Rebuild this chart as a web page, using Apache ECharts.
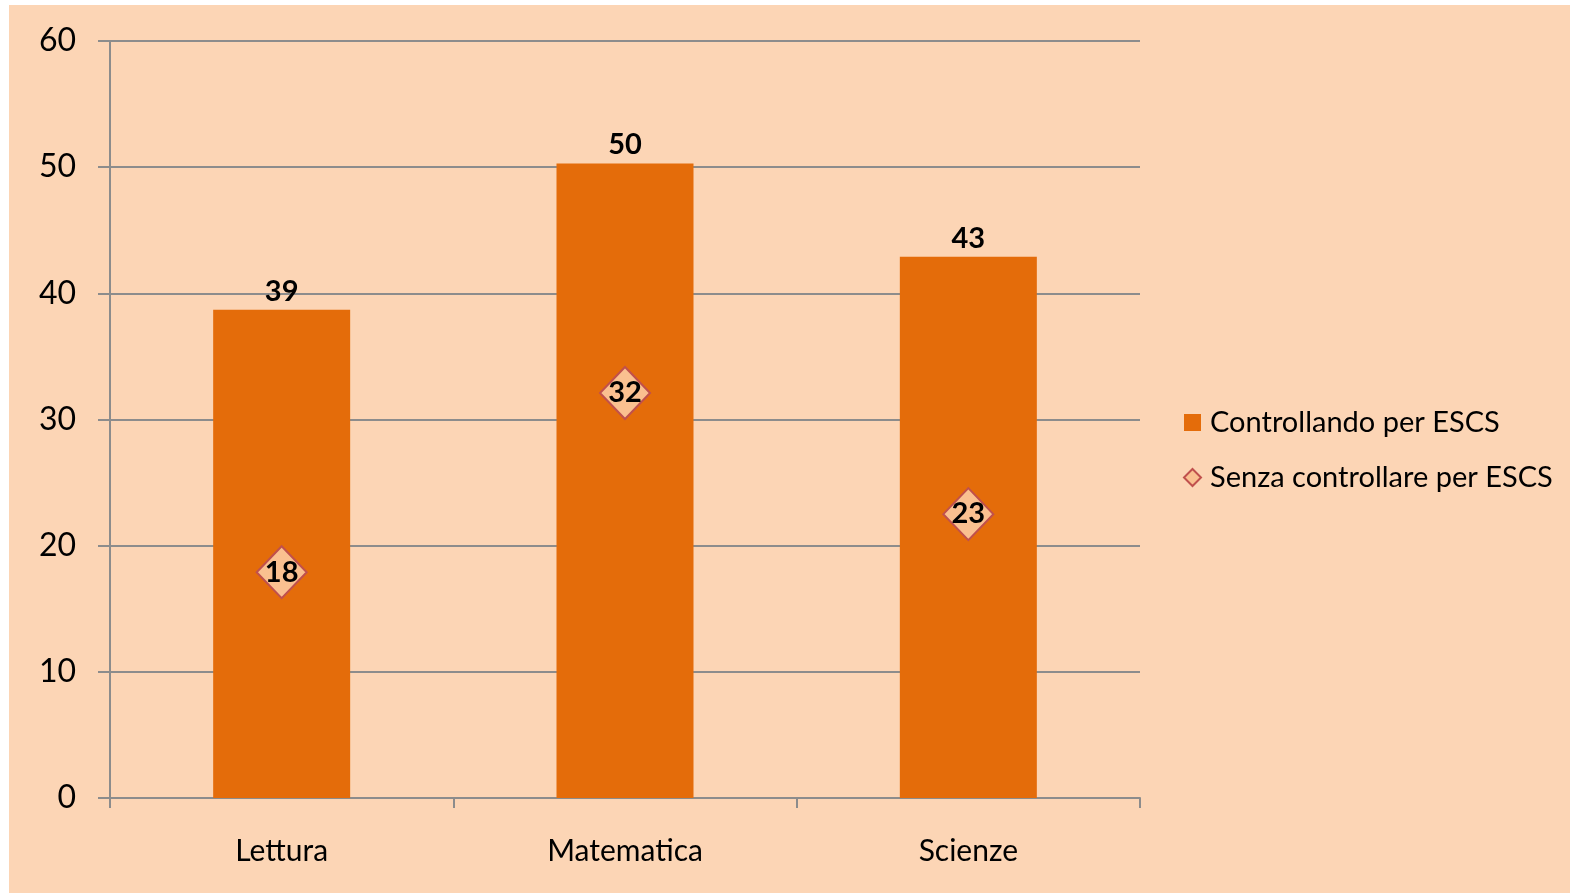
<!DOCTYPE html>
<html>
<head>
<meta charset="utf-8">
<script src="https://cdn.jsdelivr.net/npm/echarts@6/dist/echarts.min.js"></script>
<style>
html,body{margin:0;padding:0;background:#ffffff;width:1570px;height:893px;overflow:hidden;}
#chart{position:absolute;left:9px;top:5px;width:1561px;height:888px;background:#FCD5B5;}
</style>
</head>
<body>
<div id="chart"></div>
<script>
const categories = ['Lettura', 'Matematica', 'Scienze'];
const seriesNames = ['Controllando per ESCS', 'Senza controllare per ESCS'];
const controllando = [38.7, 50.3, 42.9];
const senza = [17.9, 32.1, 22.5];
const yTicks = [0, 10, 20, 30, 40, 50, 60];

const FONT = 'Lato';
const chart = echarts.init(document.getElementById('chart'), null, {renderer: 'canvas'});
chart.setOption({
  backgroundColor: '#FCD5B5',
  animation: false,
  textStyle: {fontFamily: FONT},
  grid: {left: 101, top: 36, width: 1030, height: 757, containLabel: false},
  legend: {
    orient: 'vertical',
    left: 1174,
    top: 403,
    padding: 0,
    itemGap: 26,
    itemWidth: 17,
    itemHeight: 17,
    textStyle: {fontFamily: FONT, fontSize: 29, color: '#000000', padding: [0, 0, 0, 4]},
    data: [
      {name: seriesNames[0], icon: 'rect'},
      {name: seriesNames[1], icon: 'diamond'}
    ]
  },
  xAxis: {
    type: 'category',
    data: categories,
    axisLine: {lineStyle: {color: '#8c8c8c', width: 2}},
    axisTick: {show: true, length: 10, lineStyle: {color: '#8c8c8c', width: 2}},
    axisLabel: {fontFamily: FONT, fontSize: 30, color: '#000000', margin: 38}
  },
  yAxis: {
    type: 'value',
    min: yTicks[0],
    max: yTicks[yTicks.length - 1],
    interval: 10,
    axisLine: {show: true, lineStyle: {color: '#8c8c8c', width: 2}},
    axisTick: {show: true, length: 12, lineStyle: {color: '#8c8c8c', width: 2}},
    splitLine: {show: true, lineStyle: {color: '#8c8c8c', width: 2}},
    axisLabel: {fontFamily: FONT, fontSize: 32, color: '#000000', margin: 34}
  },
  series: [
    {
      name: seriesNames[0],
      type: 'bar',
      data: controllando,
      barWidth: 137,
      itemStyle: {color: '#E46C0A'},
      label: {
        show: true,
        position: 'top',
        distance: 4,
        fontFamily: FONT,
        fontWeight: 'bold',
        fontSize: 29,
        color: '#000000',
        formatter: p => Math.round(p.value)
      },
      z: 2
    },
    {
      name: seriesNames[1],
      type: 'scatter',
      data: senza,
      symbol: 'diamond',
      symbolSize: [50, 52],
      itemStyle: {color: '#FAC090', borderColor: '#C0504D', borderWidth: 2, opacity: 1},
      label: {
        show: true,
        position: 'inside',
        fontFamily: FONT,
        fontWeight: 'bold',
        fontSize: 29,
        color: '#000000',
        formatter: p => Math.round(p.value)
      },
      z: 3
    }
  ]
});
</script>
</body>
</html>
